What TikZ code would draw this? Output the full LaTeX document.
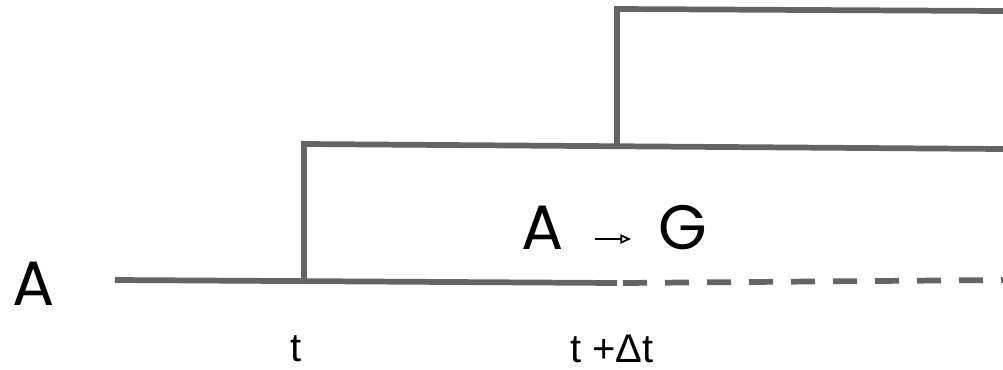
\documentclass[tikz,border=0pt]{standalone}
\usepackage{fontspec}
\setmainfont{Liberation Sans}
\newfontfamily\geofont{Poppins}
\usetikzlibrary{arrows.meta, positioning}
\definecolor{levelgray}{HTML}{646464}

\begin{document}
\begin{tikzpicture}[
    x=0.75pt, y=-0.75pt,
    level line/.style={
        draw=levelgray,
        line width=4.3pt,
        line cap=butt,
        line join=miter
    },
    level dash/.style={
        level line,
        dash pattern=on 18pt off 13.5pt
    },
    species/.style={
        inner sep=0pt,
        font=\geofont\fontsize{47}{51}\selectfont,
        text=black
    },
    time label/.style={
        inner sep=0pt,
        font=\fontsize{30}{34}\selectfont,
        text=black
    },
    reaction/.style={
        -{Triangle[open, length=8pt, width=7pt]},
        line width=1.3pt,
        black
    }
]

\useasboundingbox (0,0) rectangle (1003,369);

% levels
\coordinate (base start) at (115,280);
\coordinate (jump one) at (304,281);
\coordinate (base end) at (617,283);
\coordinate (dash end) at (1003,280);
\coordinate (mid start) at (304,144);
\coordinate (mid split) at (617,146);
\coordinate (mid end) at (1003,149);
\coordinate (top start) at (617,9);
\coordinate (top end) at (1003,11);

\draw[level line] (base start) -- (base end);
\draw[level dash] ([xshift=4.5pt]base end) -- (dash end);
\draw[level line] (jump one) -- (mid start) -- (mid end);
\draw[level line] (mid split) -- (top start) -- (top end);

% labels
\node[species] (initial) at (34,284) {A};
\node[species] (reactant) at (543,228) {A};
\node[species] (product) at (683,228) {G};

\coordinate (arrow tail) at (595,239);
\coordinate (arrow head) at (631,239);
\draw[reaction] (arrow tail) -- (arrow head);

\node[time label] (time start) at (296,349) {t};
\node[time label] (time end) at (612,349) {t +Δt};

\end{tikzpicture}
\end{document}
